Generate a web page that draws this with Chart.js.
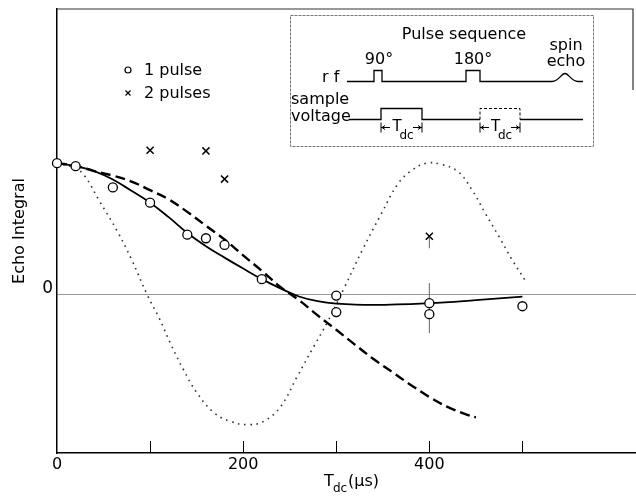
<!DOCTYPE html>
<html>
<head>
<meta charset="utf-8">
<script src="https://cdn.jsdelivr.net/npm/chart.js@4"></script>
<style>
	body { margin: 0; background: #fff; }
	canvas { display: block; }
</style>
</head>
<body>
<canvas class="echo_canvas" width="636" height="501"></canvas>
<script>
// measured points, 1 pulse (open circles) and 2 pulses (crosses)
const tdcOne = [0, 20, 60, 100, 140, 160, 180, 220, 300, 300, 400, 400, 500];
const echoOne = [1.0, 0.977, 0.816, 0.70, 0.457, 0.43, 0.379, 0.119, -0.005, -0.13, -0.063, -0.146, -0.086];
const tdcTwo = [100, 160, 180, 400];
const echoTwo = [1.098, 1.093, 0.879, 0.445];

// solid curve through the 1 pulse data
const fitX = [0, 20, 40, 60, 80, 100, 120, 140, 160, 180, 200, 220, 240, 260, 280, 300, 340, 400, 450, 500];
const fitY = [1.0, 0.977, 0.94, 0.876, 0.79, 0.70, 0.59, 0.47, 0.37, 0.283, 0.2, 0.12, 0.05, -0.012, -0.048, -0.066, -0.076, -0.063, -0.04, -0.013];

// dashed curve
const dashX = [0, 20, 40, 60, 80, 100, 120, 140, 160, 180, 200, 220, 240, 260, 280, 300, 320, 340, 360, 380, 400, 420, 440, 450];
const dashY = [1.0, 0.98, 0.94, 0.905, 0.86, 0.795, 0.725, 0.63, 0.525, 0.42, 0.30, 0.183, 0.06, -0.04, -0.155, -0.265, -0.377, -0.487, -0.585, -0.683, -0.775, -0.852, -0.908, -0.93];

// dotted curve
const dotX = [0, 20, 30, 45, 65, 80, 97, 110, 122, 136, 150, 168, 186, 205, 222, 240, 258, 276, 291, 309, 328, 348, 366, 381, 397, 413, 431, 446, 460, 475, 489, 503];
const dotY = [1.0, 0.96, 0.9, 0.72, 0.48, 0.27, 0.0, -0.18, -0.37, -0.57, -0.74, -0.89, -0.96, -0.985, -0.96, -0.85, -0.62, -0.39, -0.2, 0.06, 0.34, 0.61, 0.84, 0.945, 1.0, 0.99, 0.935, 0.795, 0.62, 0.44, 0.265, 0.11];

// error bars at 400 us
const barOne = [-0.29, 0.09];
const barTwo = [0.354, 0.445];

const xTicks = [0, 100, 200, 300, 400, 500];
const xLabels = [0, 200, 400];
const yTicks = [0];

const FONT = '"DejaVu Sans", sans-serif';

function pts(xs, ys) {
	return xs.map(function(x, i) { return { x: x, y: ys[i] }; });
}

function txt(c, s, x, y, size, align) {
	c.font = size + 'px ' + FONT;
	c.textAlign = align || 'left';
	c.textBaseline = 'middle';
	c.fillText(s, x, y);
}

function tdcArrow(c, x1, x2, y) {
	c.beginPath();
	c.moveTo(x1, y - 5); c.lineTo(x1, y + 5);
	c.moveTo(x2, y - 5); c.lineTo(x2, y + 5);
	c.moveTo(x1, y); c.lineTo(x1 + 9, y);
	c.moveTo(x2, y); c.lineTo(x2 - 9, y);
	c.moveTo(x1 + 4, y - 2); c.lineTo(x1 + 1, y); c.lineTo(x1 + 4, y + 2);
	c.moveTo(x2 - 4, y - 2); c.lineTo(x2 - 1, y); c.lineTo(x2 - 4, y + 2);
	c.stroke();
	const mid = (x1 + x2) / 2;
	txt(c, 'T', mid - 9, y, 15);
	txt(c, 'dc', mid - 2, y + 8, 12);
}

const decor = {
	id: 'decor',
	beforeDatasetsDraw(chart) {
		const c = chart.ctx;
		const a = chart.chartArea;
		const xs = chart.scales.x;
		c.save();
		c.strokeStyle = '#000';
		c.lineWidth = 1;
		// inward tick marks
		c.beginPath();
		xTicks.forEach(function(v) {
			if (v === 0) return;
			const px = Math.round(xs.getPixelForValue(v)) + 0.5;
			c.moveTo(px, a.bottom);
			c.lineTo(px, a.bottom - 12);
		});
		c.stroke();
		// frame
		c.lineWidth = 1.2;
		c.strokeStyle = '#333';
		c.beginPath();
		c.moveTo(a.left, a.top);
		c.lineTo(633, a.top);
		c.lineTo(633, 90);
		c.stroke();
		c.restore();
	},
	afterDraw(chart) {
		const c = chart.ctx;
		c.save();
		c.fillStyle = '#000';
		c.strokeStyle = '#000';

		// legend
		c.lineWidth = 1.2;
		c.beginPath();
		c.arc(128, 70, 3, 0, Math.PI * 2);
		c.stroke();
		c.beginPath();
		c.moveTo(125.5, 90.5); c.lineTo(130.5, 95.5);
		c.moveTo(130.5, 90.5); c.lineTo(125.5, 95.5);
		c.stroke();
		txt(c, chart.data.datasets[0].label, 144, 71, 16);
		txt(c, chart.data.datasets[1].label, 144, 94, 16);

		// x axis title with subscript
		txt(c, 'T', 324, 482, 16);
		txt(c, 'dc', 333, 489, 12);
		txt(c, '(\u03bcs)', 348, 482, 16);

		// inset: pulse sequence
		c.strokeStyle = '#777';
		c.lineWidth = 1;
		c.setLineDash([3, 1]);
		c.strokeRect(290.5, 15.5, 303, 131);
		c.setLineDash([]);
		c.strokeStyle = '#000';
		c.lineWidth = 1.3;
		txt(c, 'Pulse sequence', 464, 35, 16, 'center');
		txt(c, '90\u00b0', 379, 60, 16, 'center');
		txt(c, '180\u00b0', 473, 60, 16, 'center');
		txt(c, 'spin', 566, 46, 16, 'center');
		txt(c, 'echo', 566, 62, 16, 'center');
		txt(c, 'r f', 322, 78, 16);
		txt(c, 'sample', 291, 100, 16);
		txt(c, 'voltage', 291, 117, 16);

		c.beginPath();
		c.moveTo(347, 81.5); c.lineTo(374, 81.5); c.lineTo(374, 70.5); c.lineTo(382, 70.5); c.lineTo(382, 81.5);
		c.lineTo(466, 81.5); c.lineTo(466, 70.5); c.lineTo(480, 70.5); c.lineTo(480, 81.5);
		c.lineTo(552, 81.5);
		c.bezierCurveTo(559, 81.5, 561, 73.5, 565, 73.5);
		c.bezierCurveTo(569, 73.5, 571, 81.5, 578, 81.5);
		c.lineTo(583, 81.5);
		c.stroke();

		c.beginPath();
		c.moveTo(349, 119.5); c.lineTo(381, 119.5); c.lineTo(381, 108.5); c.lineTo(422, 108.5); c.lineTo(422, 119.5);
		c.lineTo(480, 119.5);
		c.moveTo(520, 119.5); c.lineTo(583, 119.5);
		c.stroke();
		c.setLineDash([3, 2]);
		c.lineWidth = 1;
		c.beginPath();
		c.moveTo(480, 119.5); c.lineTo(480, 108.5); c.lineTo(520, 108.5); c.lineTo(520, 119.5);
		c.stroke();
		c.setLineDash([]);

		c.lineWidth = 1;
		tdcArrow(c, 381, 422, 127.5);
		tdcArrow(c, 480, 520, 127.5);
		c.restore();
	}
};

const ctx = document.querySelector('.echo_canvas');
const echo_chart = new Chart(ctx, {
	type: 'scatter',
	data: {
		datasets: [
			{
				label: '1 pulse',
				data: pts(tdcOne, echoOne),
				pointStyle: 'circle',
				pointRadius: 4.5,
				backgroundColor: '#fff',
				borderColor: '#000',
				borderWidth: 1.3,
				clip: false
			},
			{
				label: '2 pulses',
				data: pts(tdcTwo, echoTwo),
				pointStyle: 'crossRot',
				pointRadius: 5,
				borderColor: '#000',
				borderWidth: 1.5,
				clip: false
			},
			{
				label: 'fit',
				data: pts(fitX, fitY),
				showLine: true,
				pointRadius: 0,
				borderColor: '#000',
				borderWidth: 1.8,
				tension: 0.4
			},
			{
				label: 'dashed',
				data: pts(dashX, dashY),
				showLine: true,
				pointRadius: 0,
				borderColor: '#000',
				borderWidth: 2.4,
				borderDash: [10, 5],
				tension: 0.4
			},
			{
				label: 'dotted',
				data: pts(dotX, dotY),
				showLine: true,
				pointRadius: 0,
				borderColor: '#333',
				borderWidth: 1.6,
				borderDash: [1.6, 4.6],
				tension: 0.4
			},
			{
				label: 'bar1',
				data: pts([400, 400], barOne),
				showLine: true,
				pointRadius: 0,
				borderColor: '#666',
				borderWidth: 1
			},
			{
				label: 'bar2',
				data: pts([400, 400], barTwo),
				showLine: true,
				pointRadius: 0,
				borderColor: '#666',
				borderWidth: 1
			}
		]
	},
	options: {
		responsive: false,
		animation: false,
		layout: { autoPadding: false, padding: { top: 9, right: 0, left: 0, bottom: 0 } },
		plugins: {
			legend: { display: false },
			tooltip: { enabled: false }
		},
		scales: {
			x: {
				type: 'linear',
				min: 0,
				max: 622,
				afterBuildTicks: function(scale) {
					scale.ticks = xTicks.map(function(v) { return { value: v }; });
				},
				afterFit: function(scale) {
					scale.height = 48;
					scale.paddingLeft = 0;
					scale.paddingRight = 0;
				},
				grid: { color: 'transparent', drawTicks: false },
				border: { display: true, color: '#000', width: 1.5 },
				ticks: {
					autoSkip: false,
					maxRotation: 0,
					padding: 2,
					color: '#000',
					font: { family: FONT, size: 16 },
					callback: function(v) { return xLabels.indexOf(v) >= 0 ? v : ''; }
				}
			},
			y: {
				type: 'linear',
				min: -1.2,
				max: 2.17,
				afterBuildTicks: function(scale) {
					scale.ticks = yTicks.map(function(v) { return { value: v }; });
				},
				afterFit: function(scale) {
					scale.width = 57;
					scale.paddingTop = 0;
					scale.paddingBottom = 0;
				},
				grid: {
					drawTicks: false,
					color: function(c) { return c.tick && c.tick.value === 0 ? '#999' : 'transparent'; },
					lineWidth: 1
				},
				border: { display: true, color: '#000', width: 1.5 },
				ticks: {
					padding: 4,
					labelOffset: -6,
					color: '#000',
					font: { family: FONT, size: 17 }
				},
				title: {
					display: true,
					text: 'Echo Integral',
					color: '#000',
					font: { family: FONT, size: 16 },
					padding: { top: 10, bottom: 0 }
				}
			}
		}
	},
	plugins: [decor]
});
</script>
</body>
</html>
